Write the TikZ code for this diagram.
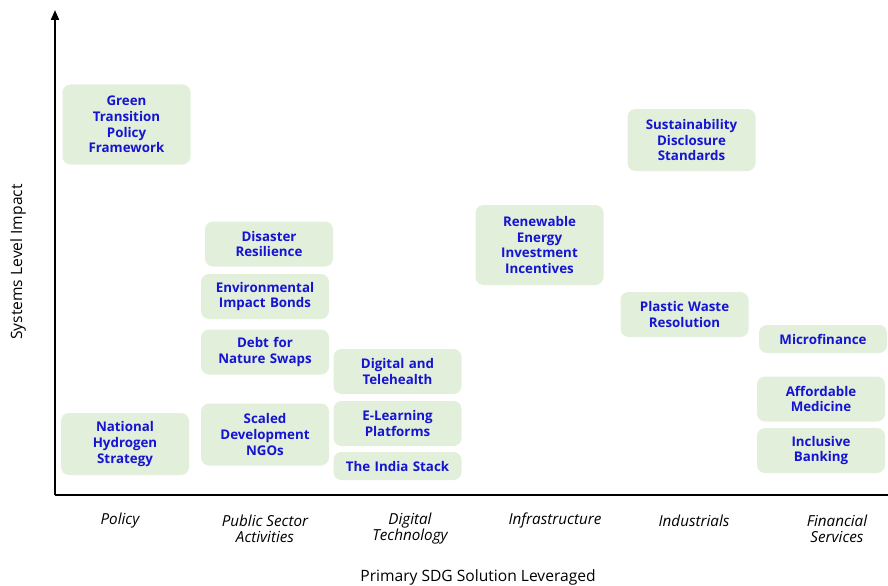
\documentclass[tikz,border=0pt]{standalone}
\usepackage{fontspec}
\setmainfont{Open Sans}
\usepackage{xcolor}
\usetikzlibrary{arrows.meta,positioning}

\definecolor{solgreen}{HTML}{E2EFDA}
\definecolor{solblue}{HTML}{1414D2}

\begin{document}
\begin{tikzpicture}[x=0.75pt, y=-0.75pt,
    solution/.style={rectangle, rounded corners=6pt, fill=solgreen, text=solblue, minimum width=96pt, text width=92pt, align=center, inner sep=2pt, font=\bfseries\fontsize{10}{11.7}\selectfont},
    oneline/.style={solution, minimum height=21pt},
    twoline/.style={solution, minimum height=33.75pt},
    threeline/.style={solution, minimum height=46.5pt},
    fourline/.style={solution, minimum height=60pt},
    sector/.style={align=center, font=\itshape\fontsize{11.4}{12}\selectfont},
    axistitle/.style={font=\fontsize{11.7}{13}\selectfont}]

  \useasboundingbox (0,0) rectangle (888,585);

  % axes
  \coordinate (origin) at (55,495);
  \coordinate (ytop) at (55,10);
  \coordinate (xend) at (888,495);
  \draw[line width=1.5pt, -{Triangle[length=7.5pt, width=6pt]}] (origin) -- (ytop);
  \draw[line width=1.5pt] (origin) -- (xend);

  % policy
  \node[fourline] (green) at (126.5,124.5) {Green\\Transition\\Policy\\Framework};
  \node[threeline] (hydrogen) at (125,444) {National\\Hydrogen\\Strategy};

  % public sector
  \node[twoline] (disaster) at (269,244) {Disaster\\Resilience};
  \node[twoline] (bonds) at (265,296.5) {Environmental\\Impact Bonds};
  \node[twoline] (debt) at (265,352) {Debt for\\Nature Swaps};
  \node[threeline] (ngos) at (265,434.5) {Scaled\\Development\\NGOs};

  % digital
  \node[twoline] (telehealth) at (397.5,371.5) {Digital and\\Telehealth};
  \node[twoline] (elearning) at (397.5,423.5) {E-Learning\\Platforms};
  \node[oneline] (stack) at (397.5,466) {The India Stack};

  % infrastructure, industrials
  \node[fourline] (renewable) at (539.5,245) {Renewable\\Energy\\Investment\\Incentives};
  \node[threeline] (disclosure) at (691.5,140) {Sustainability\\Disclosure\\Standards};
  \node[twoline] (plastic) at (684.5,314.5) {Plastic Waste\\Resolution};

  % financial
  \node[oneline] (micro) at (823,339) {Microfinance};
  \node[twoline] (medicine) at (821,399) {Affordable\\Medicine};
  \node[twoline] (banking) at (821,450.5) {Inclusive\\Banking};

  % sector labels
  \node[sector] (policy) at (120,521) {Policy};
  \node[sector] (public) at (265,529) {Public Sector\\Activities};
  \node[sector] (digital) at (410,529) {Digital\\Technology};
  \node[sector] (infra) at (555,521) {Infrastructure};
  \node[sector] (industry) at (694,521) {Industrials};
  \node[sector] (finance) at (837,529) {Financial\\Services};

  % axis titles
  \node[axistitle] (xtitle) at (478,577) {Primary SDG Solution Leveraged};
  \node[axistitle, rotate=90] (ytitle) at (18,262) {Systems Level Impact};
\end{tikzpicture}
\end{document}
